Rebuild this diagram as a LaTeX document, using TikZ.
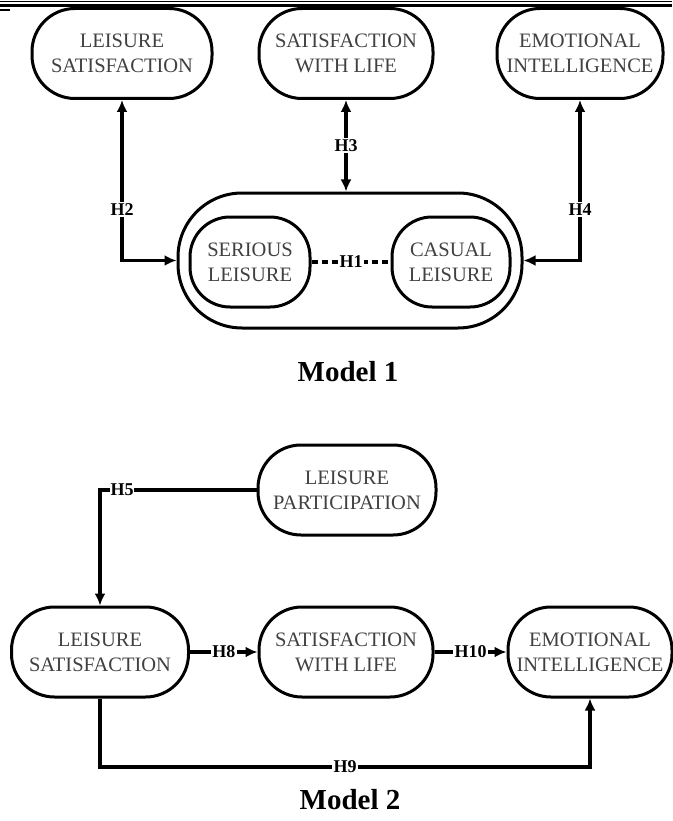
\documentclass[tikz,border=0pt]{standalone}
\usepackage{fontspec}
\setmainfont{Liberation Serif}
\usetikzlibrary{arrows.meta}

\begin{document}
\begin{tikzpicture}[x=1pt, y=-1pt, >={Latex[length=12pt,width=11pt]}]

            \tikzset{construct/.style={draw, line width=3pt, rounded corners=43pt, align=center,
                     inner sep=0pt, minimum height=90pt, text=black!75,
                     font=\fontsize{20.5}{25}\selectfont}}
            \tikzset{link/.style={line width=3.2pt}}
            \tikzset{hyp/.style={fill=white, inner sep=1.5pt, font=\bfseries\fontsize{18}{18}\selectfont}}
            \tikzset{model/.style={font=\bfseries\fontsize{29}{29}\selectfont}}

            \useasboundingbox (0,0) rectangle (672,821);

            \draw[line width=1pt] (0,1.5) -- (672,1.5);
            \draw[line width=2.8pt] (0,5.5) -- (672,5.5);
            \draw[line width=1.5pt] (0,10) -- (10,10);

            % model 1
            \node[construct, minimum width=180pt] (ls1) at (122,53.5) {LEISURE\\SATISFACTION};
            \node[construct, minimum width=174pt] (swl1) at (346,53.5) {SATISFACTION\\WITH LIFE};
            \node[construct, minimum width=166pt] (ei1) at (580,53.5) {EMOTIONAL\\INTELLIGENCE};

            \node[construct, minimum width=344pt, minimum height=135pt, rounded corners=64pt] (leisure) at (350,260.5) {};
            \node[construct, minimum width=120pt, rounded corners=40pt] (serious) at (250,262) {SERIOUS\\LEISURE};
            \node[construct, minimum width=118pt, rounded corners=40pt] (casual) at (451,262) {CASUAL\\LEISURE};

            \draw[link, dash pattern=on 6pt off 4pt] (serious) -- node[hyp] (h1) {H1} (casual);
            \draw[link, <->] (ls1.south) |- node[hyp, pos=0.34] (h2) {H2} (leisure.west);
            \draw[link, <->] (swl1.south) -- node[hyp] (h3) {H3} (swl1.south |- leisure.north);
            \draw[link, <->] (ei1.south) |- node[hyp, pos=0.34] (h4) {H4} (leisure.east);

            \node[model] (m1) at (348,372) {Model 1};

            % model 2
            \node[construct, minimum width=178pt] (lp) at (347,490) {LEISURE\\PARTICIPATION};
            \node[construct, minimum width=177pt] (ls2) at (100,652) {LEISURE\\SATISFACTION};
            \node[construct, minimum width=174pt] (swl2) at (346,652) {SATISFACTION\\WITH LIFE};
            \node[construct, minimum width=164pt] (ei2) at (590,652) {EMOTIONAL\\INTELLIGENCE};

            \coordinate (c5) at (ls2.north |- lp.west);
            \coordinate (c9) at (ls2.south |- 0,767);
            \draw[link, ->] (lp.west) -- (c5) -- (ls2.north);
            \node[hyp, inner sep=0.5pt] (h5) at (122,490) {H5};
            \draw[link, ->] (ls2) -- node[hyp] (h8) {H8} (swl2);
            \draw[link, ->] (swl2) -- node[hyp] (h10) {H10} (ei2);
            \draw[link, ->] (ls2.south) -- (c9) -| node[hyp, pos=0.25] (h9) {H9} (ei2.south);

            \node[model] (m2) at (350,800) {Model 2};

        \end{tikzpicture}
\end{document}
